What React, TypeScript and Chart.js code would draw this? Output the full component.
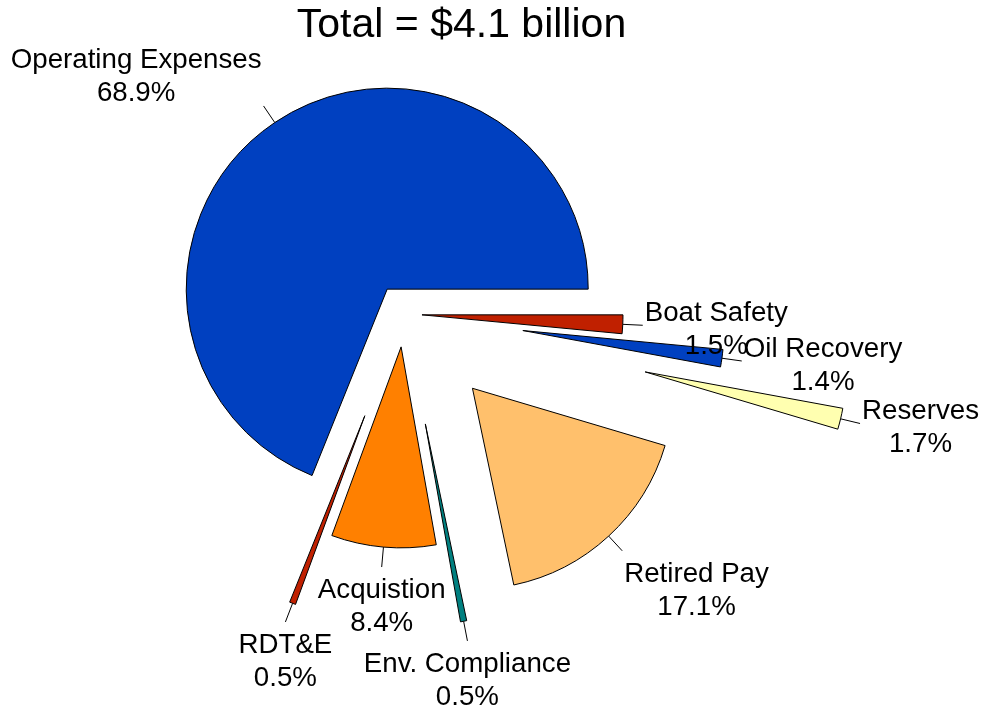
import React, { useEffect, useRef } from 'react';
import { Chart, registerables } from 'chart.js';

Chart.register(...registerables);

// ---- data (clockwise from 3 o'clock) ----
const categories: string[] = [
  'Boat Safety',
  'Oil Recovery',
  'Reserves',
  'Retired Pay',
  'Env. Compliance',
  'Acquistion',
  'RDT&E',
  'Operating Expenses',
];
const shares: number[] = [1.5, 1.4, 1.7, 17.1, 0.5, 8.4, 0.5, 68.9];
const titleText = 'Total = $4.1 billion';

// ---- styles ----
const sliceColors: string[] = [
  '#C02000',
  '#0040C0',
  '#FFFFB0',
  '#FFC06C',
  '#008080',
  '#FF8000',
  '#C02000',
  '#0040C0',
];
// how far each slice is pulled out from the centre (px)
const explodeOffsets: number[] = [18, 120, 248, 101, 112, 33, 109, 30];

const FONT = '"Liberation Sans", Arial, Helvetica, sans-serif';
const LABEL_SIZE = 27.7;
const LINE_H = 33;
const ASCENT = 24.8;
const LEADER = 20;

export default function App() {
  const ref = useRef<HTMLCanvasElement | null>(null);

  useEffect(() => {
    if (!ref.current) return;

    const explodePlugin = {
      id: 'explodeSlices',
      afterDatasetUpdate(chart: any, args: any) {
        const meta = chart.getDatasetMeta(args.index);
        meta.data.forEach((arc: any, i: number) => {
          const mid = (arc.startAngle + arc.endAngle) / 2;
          const d = explodeOffsets[i] || 0;
          arc.x = arc.x + Math.cos(mid) * d;
          arc.y = arc.y + Math.sin(mid) * d;
        });
      },
    };

    const labelPlugin = {
      id: 'pieLabels',
      afterDatasetsDraw(chart: any) {
        const ctx: CanvasRenderingContext2D = chart.ctx;
        const meta = chart.getDatasetMeta(0);
        ctx.save();
        meta.data.forEach((el: any, i: number) => {
          const { x, y, startAngle, endAngle, outerRadius } = el;
          const mid = (startAngle + endAngle) / 2;
          const c = Math.cos(mid);
          const s = Math.sin(mid);
          const ex = x + c * outerRadius;
          const ey = y + s * outerRadius;
          const lx = ex + c * LEADER;
          const ly = ey + s * LEADER;
          ctx.beginPath();
          ctx.moveTo(ex, ey);
          ctx.lineTo(lx, ly);
          ctx.strokeStyle = '#000';
          ctx.lineWidth = 1;
          ctx.stroke();

          const lines = [categories[i], shares[i].toFixed(1) + '%'];
          ctx.font = `${LABEL_SIZE}px ${FONT}`;
          const w = Math.max(...lines.map((t) => ctx.measureText(t).width));
          let cx: number;
          if (c > 0.5) cx = lx + 2 + w / 2;
          else if (c < -0.5) cx = lx - 2 - w / 2;
          else cx = lx;
          let b1: number;
          if (s > 0.5) b1 = ly + 6 + ASCENT;
          else if (s < -0.5) b1 = ly - 5 - LINE_H;
          else b1 = ly - 4;
          ctx.fillStyle = '#000';
          ctx.textAlign = 'center';
          ctx.textBaseline = 'alphabetic';
          lines.forEach((t, k) => ctx.fillText(t, cx, b1 + k * LINE_H));
        });

        // title
        ctx.font = `41px ${FONT}`;
        ctx.fillStyle = '#000';
        ctx.textAlign = 'center';
        ctx.textBaseline = 'alphabetic';
        ctx.fillText(titleText, 461.5, 37);
        ctx.restore();
      },
    };

    const chart = new Chart(ref.current, {
      type: 'pie',
      data: {
        labels: categories,
        datasets: [
          {
            data: shares,
            backgroundColor: sliceColors,
            borderColor: '#000000',
            borderWidth: 1,
            borderJoinStyle: 'miter',
          } as any,
        ],
      },
      options: {
        responsive: true,
        maintainAspectRatio: false,
        animation: false,
        rotation: 90,
        radius: 201,
        layout: { padding: { left: 0, right: 173, top: 0, bottom: 82 } },
        plugins: {
          legend: { display: false },
          title: { display: false },
          tooltip: { enabled: true },
        },
      } as any,
      plugins: [explodePlugin, labelPlugin],
    });

    return () => chart.destroy();
  }, []);

  return (
    <div style={{ position: 'absolute', left: 0, top: 0, width: 981, height: 710, background: '#fff' }}>
      <canvas ref={ref} />
    </div>
  );
}
